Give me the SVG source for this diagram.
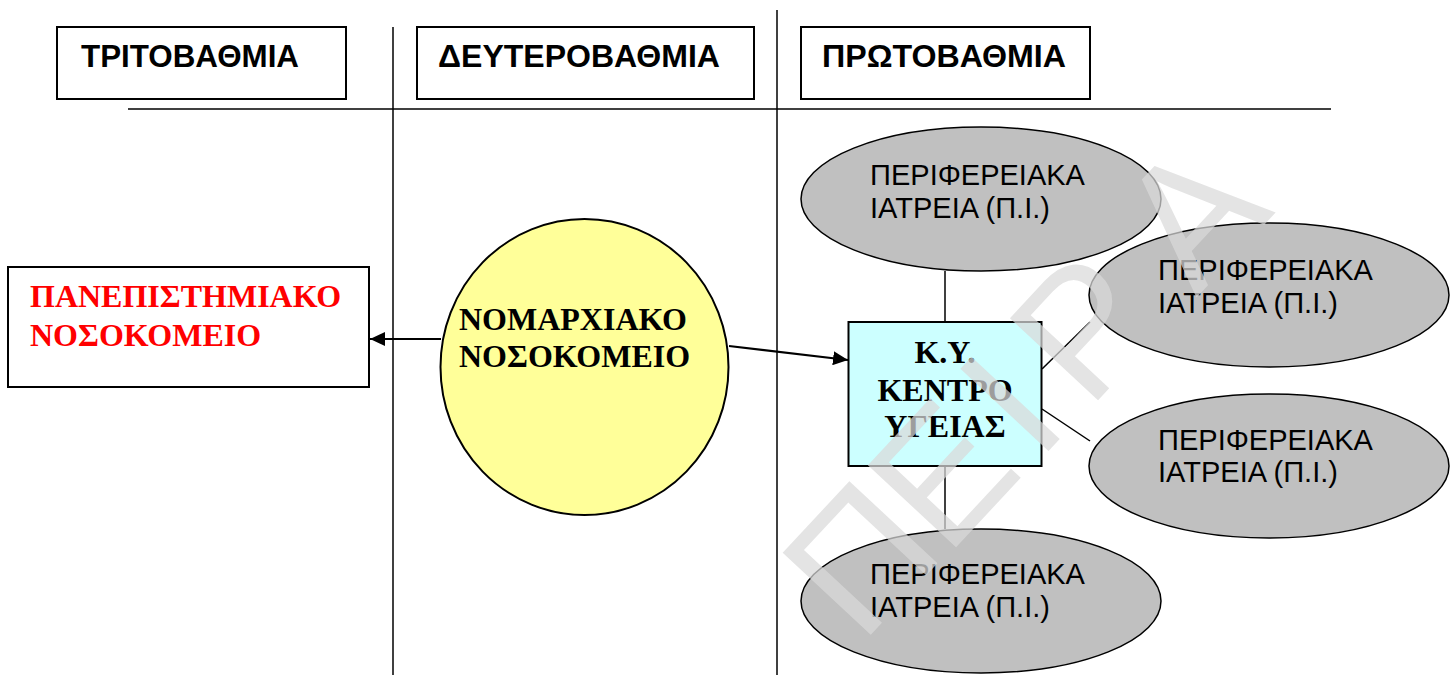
<svg xmlns="http://www.w3.org/2000/svg" width="1453" height="675" viewBox="0 0 1453 675">
<style>
.hbox{fill:#ffffff;stroke:#000;stroke-width:2}
.htxt{font-family:"Liberation Sans",Arial,sans-serif;font-weight:bold;font-size:32px;fill:#000}
.pi{fill:#c0c0c0;stroke:#000;stroke-width:1.5}
.pitxt{font-family:"Liberation Sans",Arial,sans-serif;font-size:29px;fill:#000}
.bt{font-family:"Liberation Serif","Times New Roman",serif;font-weight:bold;font-size:32px}
.conn{stroke:#000;stroke-width:1.5;fill:none}
.arr{stroke:#000;stroke-width:2.2;fill:none}
.grid{stroke:#000;stroke-width:1.5;fill:none}
.wm{font-family:"Liberation Sans",Arial,sans-serif;font-size:175px;fill:#dadada;opacity:0.72}
</style>
<defs>
<marker id="ah" markerUnits="userSpaceOnUse" markerWidth="16" markerHeight="14" refX="15" refY="7" orient="auto">
<path d="M0,0 L15,7 L0,14 z" fill="#000"/>
</marker>
</defs>
<rect width="1453" height="675" fill="#fff"/>
<g id="grid">
<line class="grid" x1="393" y1="27" x2="393" y2="675"/>
<line class="grid" x1="777" y1="10" x2="777" y2="675"/>
<line class="grid" x1="128" y1="109" x2="1331" y2="109"/>
</g>
<g id="hdr-tri">
<rect class="hbox" x="57" y="27" width="289" height="72"/>
<text class="htxt" x="81" y="67" textLength="218" lengthAdjust="spacingAndGlyphs">ΤΡΙΤΟΒΑΘΜΙΑ</text>
</g>
<g id="hdr-deut">
<rect class="hbox" x="417" y="27" width="337" height="72"/>
<text class="htxt" x="438" y="67" textLength="282" lengthAdjust="spacingAndGlyphs">ΔΕΥΤΕΡΟΒΑΘΜΙΑ</text>
</g>
<g id="hdr-prot">
<rect class="hbox" x="801" y="27" width="289" height="72"/>
<text class="htxt" x="822" y="67" textLength="244" lengthAdjust="spacingAndGlyphs">ΠΡΩΤΟΒΑΘΜΙΑ</text>
</g>
<g id="connectors">
<line class="arr" x1="441" y1="339" x2="370" y2="339" marker-end="url(#ah)"/>
<line class="arr" x1="729" y1="346" x2="848" y2="360" marker-end="url(#ah)"/>
<line class="conn" x1="945" y1="271" x2="945" y2="322"/>
<line class="conn" x1="945" y1="466" x2="945" y2="529"/>
<line class="conn" x1="1042" y1="369" x2="1090" y2="322"/>
<line class="conn" x1="1042" y1="409" x2="1090" y2="441"/>
</g>
<g id="univ">
<rect x="8" y="267" width="361" height="120" fill="#fff" stroke="#000" stroke-width="2"/>
<text class="bt" fill="#ff0000" x="30" y="307">ΠΑΝΕΠΙΣΤΗΜΙΑΚΟ</text>
<text class="bt" fill="#ff0000" x="30" y="346">ΝΟΣΟΚΟΜΕΙΟ</text>
</g>
<g id="nomarx">
<ellipse cx="584.5" cy="367" rx="144" ry="148" fill="#ffff99" stroke="#000" stroke-width="2"/>
<text class="bt" fill="#000" x="459" y="330">ΝΟΜΑΡΧΙΑΚΟ</text>
<text class="bt" fill="#000" x="459" y="367">ΝΟΣΟΚΟΜΕΙΟ</text>
</g>
<g id="ky">
<rect x="848.5" y="322" width="193" height="144" fill="#ccffff" stroke="#000" stroke-width="2"/>
<text class="bt" fill="#000" x="945" y="363" text-anchor="middle">Κ.Υ.</text>
<text class="bt" fill="#000" x="945" y="401" text-anchor="middle">ΚΕΝΤΡΟ</text>
<text class="bt" fill="#000" x="945" y="437" text-anchor="middle">ΥΓΕΙΑΣ</text>
</g>
<g id="pi1">
<ellipse class="pi" cx="981" cy="199" rx="180" ry="72"/>
<text class="pitxt" x="870" y="185">ΠΕΡΙΦΕΡΕΙΑΚΑ</text>
<text class="pitxt" x="870" y="218">ΙΑΤΡΕΙΑ (Π.Ι.)</text>
</g>
<g id="pi2">
<ellipse class="pi" cx="1269" cy="295" rx="180" ry="72"/>
<text class="pitxt" x="1158" y="280">ΠΕΡΙΦΕΡΕΙΑΚΑ</text>
<text class="pitxt" x="1158" y="313">ΙΑΤΡΕΙΑ (Π.Ι.)</text>
</g>
<g id="pi3">
<ellipse class="pi" cx="1269" cy="466" rx="180" ry="72"/>
<text class="pitxt" x="1158" y="450">ΠΕΡΙΦΕΡΕΙΑΚΑ</text>
<text class="pitxt" x="1158" y="482">ΙΑΤΡΕΙΑ (Π.Ι.)</text>
</g>
<g id="pi4">
<ellipse class="pi" cx="981" cy="601" rx="180" ry="72"/>
<text class="pitxt" x="870" y="584">ΠΕΡΙΦΕΡΕΙΑΚΑ</text>
<text class="pitxt" x="870" y="617">ΙΑΤΡΕΙΑ (Π.Ι.)</text>
</g>
<g id="watermark">
<text class="wm" text-anchor="middle" x="0" y="63" transform="translate(858,556) rotate(-47)">Π</text>
<text class="wm" text-anchor="middle" x="0" y="63" transform="translate(940,472) rotate(-47)">Ε</text>
<text class="wm" text-anchor="middle" x="0" y="63" transform="translate(1008,402) rotate(-47)">Ι</text>
<text class="wm" text-anchor="middle" x="0" y="63" transform="translate(1082,325) rotate(-47)">Ρ</text>
<text class="wm" text-anchor="middle" x="0" y="63" transform="translate(1190,212) rotate(-47)">Α</text>
</g>
</svg>
